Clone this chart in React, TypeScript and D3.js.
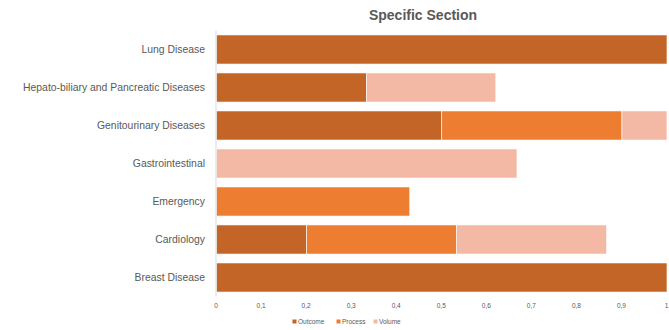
import React from "react";
import * as d3 from "d3";

const categories = [
  "Lung Disease",
  "Hepato-biliary and Pancreatic Diseases",
  "Genitourinary Diseases",
  "Gastrointestinal",
  "Emergency",
  "Cardiology",
  "Breast Disease",
];
const seriesNames = ["Outcome", "Process", "Volume"];
const outcome = [1, 0.333, 0.5, 0, 0, 0.2, 1];
const process = [0, 0, 0.4, 0, 0.429, 0.333, 0];
const volume = [0, 0.287, 0.1, 0.667, 0, 0.333, 0];
const ticks = [0, 0.1, 0.2, 0.3, 0.4, 0.5, 0.6, 0.7, 0.8, 0.9, 1];
const colors = ["#C46528", "#ED7D31", "#F4B9A5"];

const W = 669;
const H = 330;
const FONT = "'Liberation Sans', Arial, sans-serif";

export default function App() {
  const x = d3.scaleLinear().domain([0, 1]).range([216.5, 667]);
  const y = d3
    .scaleBand<string>()
    .domain(categories)
    .range([30.5, 296.5])
    .paddingInner(0.235)
    .paddingOuter(0.1175);

  const rows = categories.map((c, i) => ({
    cat: c,
    Outcome: outcome[i],
    Process: process[i],
    Volume: volume[i],
  }));
  const stacked = d3.stack<any>().keys(seriesNames)(rows);

  const fmt = (v: number) => (v === 0 || v === 1 ? String(v) : v.toFixed(1).replace(".", ","));

  const legendX = [292.5, 336.5, 373.5];

  return (
    <svg width={W} height={H} style={{ position: "absolute", left: 0, top: 0, background: "#fff" }}>
      <text x={423} y={19.5} textAnchor="middle" fontFamily={FONT} fontWeight="bold" fontSize={14} fill="#595959">
        Specific Section
      </text>
      {stacked.map((s, si) => (
        <g key={seriesNames[si]} fill={colors[si]}>
          {s.map((d, i) =>
            d[1] - d[0] > 0 ? (
              <rect
                key={i}
                x={x(d[0])}
                y={y(categories[i])!}
                width={x(d[1]) - x(d[0])}
                height={y.bandwidth()}
                stroke="#fff"
                strokeWidth={0.6}
              />
            ) : null
          )}
        </g>
      ))}
      <line x1={216} x2={216} y1={30.5} y2={296.5} stroke="#d9d9d9" strokeWidth={1} />
      {categories.map((c) => (
        <text
          key={c}
          x={205}
          y={y(c)! + y.bandwidth() / 2}
          dy="0.35em"
          textAnchor="end"
          fontFamily={FONT}
          fontSize={10.4}
          fill="#595959"
        >
          {c}
        </text>
      ))}
      {ticks.map((t) => (
        <text key={t} x={x(t) - 0.5} y={306} dy="0.35em" textAnchor="middle" fontFamily={FONT} fontSize={6.5} fill="#595959">
          {fmt(t)}
        </text>
      ))}
      {seriesNames.map((n, i) => (
        <g key={n}>
          <rect x={legendX[i]} y={319.5} width={4} height={4} fill={colors[i]} />
          <text x={legendX[i] + 5.5} y={322} dy="0.35em" fontFamily={FONT} fontSize={6.5} fill="#595959">
            {n}
          </text>
        </g>
      ))}
    </svg>
  );
}
